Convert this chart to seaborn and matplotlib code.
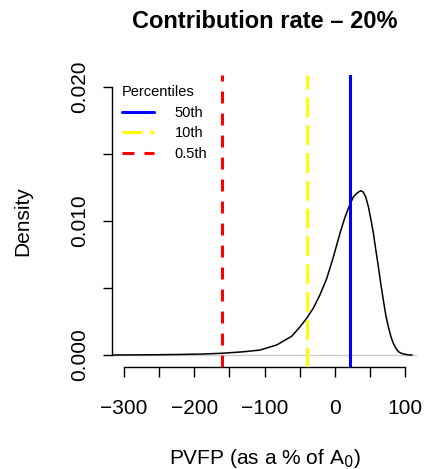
import numpy as np
import pandas as pd
import matplotlib
matplotlib.use("Agg")
import matplotlib.pyplot as plt
from matplotlib.ticker import MultipleLocator
import seaborn as sns

# --- Data ---
# PVFP values (as a % of A0) and the estimated density at each
density_x = [-315, -280, -250, -220, -190, -160, -130, -106.4, -82.6, -61.3, -49.5,
             -40.0, -30.5, -21.0, -11.5, -2.1, 7.5, 14.0, 19.3, 26.4, 31.0, 34.5,
             37.4, 40.6, 44.0, 47.8, 51.5, 54.9, 58.5, 62.0, 65.5, 69.1, 72.5,
             76.2, 80.0, 83.3, 87.0, 90.5, 95.0, 100.0, 105.0, 110]
density_y = [0.0, 0.00001, 0.00002, 0.00004, 0.00007, 0.00013, 0.00024, 0.00037,
             0.00075, 0.0014, 0.0021, 0.00274, 0.0035, 0.0045, 0.0057, 0.0073,
             0.0091, 0.0102, 0.01095, 0.0118, 0.01205, 0.01219, 0.01226, 0.01215,
             0.0118, 0.01107, 0.0101, 0.0091, 0.0078, 0.0066, 0.0053, 0.0041,
             0.0030, 0.0021, 0.00135, 0.00087, 0.0005, 0.00025, 0.00012, 0.00005,
             0.00001, 0.0]

pct_labels = ["50th", "10th", "0.5th"]
pct_values = [21.5, -40.0, -160.0]
pct_colors = ["#0000FF", "#FFFF00", "#FF0000"]
pct_styles = ["-", (0, (6.5, 2.6)), (0, (3.9, 3.3))]

x_ticks = [-300, -200, -100, 0, 100]
y_ticks = [0.000, 0.010, 0.020]

TITLE = "Contribution rate \u2013 20%"

# --- Style ---
sns.set_style("white", {"axes.edgecolor": "black", "text.color": "black",
                        "axes.labelcolor": "black", "xtick.color": "black",
                        "ytick.color": "black"})
plt.rcParams["font.family"] = ["Liberation Sans", "DejaVu Sans"]
plt.rcParams["axes.linewidth"] = 1.0

fig = plt.figure(figsize=(4.28, 4.69), dpi=100)
ax = fig.add_axes([112 / 428, 102 / 469, 305 / 428, 292 / 469])

df = pd.DataFrame({"x": density_x, "y": density_y})

ax.axhline(0, color="#CCCCCC", lw=1.0, zorder=1)
sns.lineplot(data=df, x="x", y="y", ax=ax, color="black", lw=1.1, zorder=3)

for lab, val, col, ls in zip(pct_labels, pct_values, pct_colors, pct_styles):
    ax.axvline(val, color=col, lw=2.2, linestyle=ls, label=lab, zorder=4)

ax.set_xlim(-317, 117)
ax.set_ylim(-0.000896, 0.020896)

# R-like axes: detached spines spanning the tick range only
sns.despine(ax=ax)
ax.spines["left"].set_bounds(0, 0.020)
ax.spines["bottom"].set_bounds(-300, 100)

ax.set_xticks(x_ticks)
ax.set_xticklabels([str(t).replace("-", "\u2212") for t in x_ticks])
ax.xaxis.set_minor_locator(MultipleLocator(50))
ax.set_yticks(y_ticks)
ax.set_yticklabels([f"{t:.3f}" for t in y_ticks])
ax.yaxis.set_minor_locator(MultipleLocator(0.005))

ax.tick_params(axis="x", which="both", length=7.2, width=1.0, direction="out",
               bottom=True, labelsize=15, pad=16)
ax.tick_params(axis="y", which="both", length=6.5, width=1.0, direction="out",
               left=True, labelsize=15, pad=10)
plt.setp(ax.get_yticklabels(), rotation=90, va="center")

ax.set_xlabel("PVFP (as a % of A$_0$)", fontsize=15, labelpad=21)
ax.set_ylabel("Density", fontsize=15, labelpad=27)
fig.suptitle(TITLE, fontsize=17, fontweight="bold", x=265 / 428, y=0.978)

leg = ax.legend(title="Percentiles", loc="upper left", bbox_to_anchor=(0.0, 1.0),
                frameon=False, fontsize=10.5, title_fontsize=10.5,
                handlelength=2.2, alignment="left", labelspacing=0.45,
                handletextpad=1.4, borderaxespad=0.3)

fig.savefig("out.png", dpi=100)
